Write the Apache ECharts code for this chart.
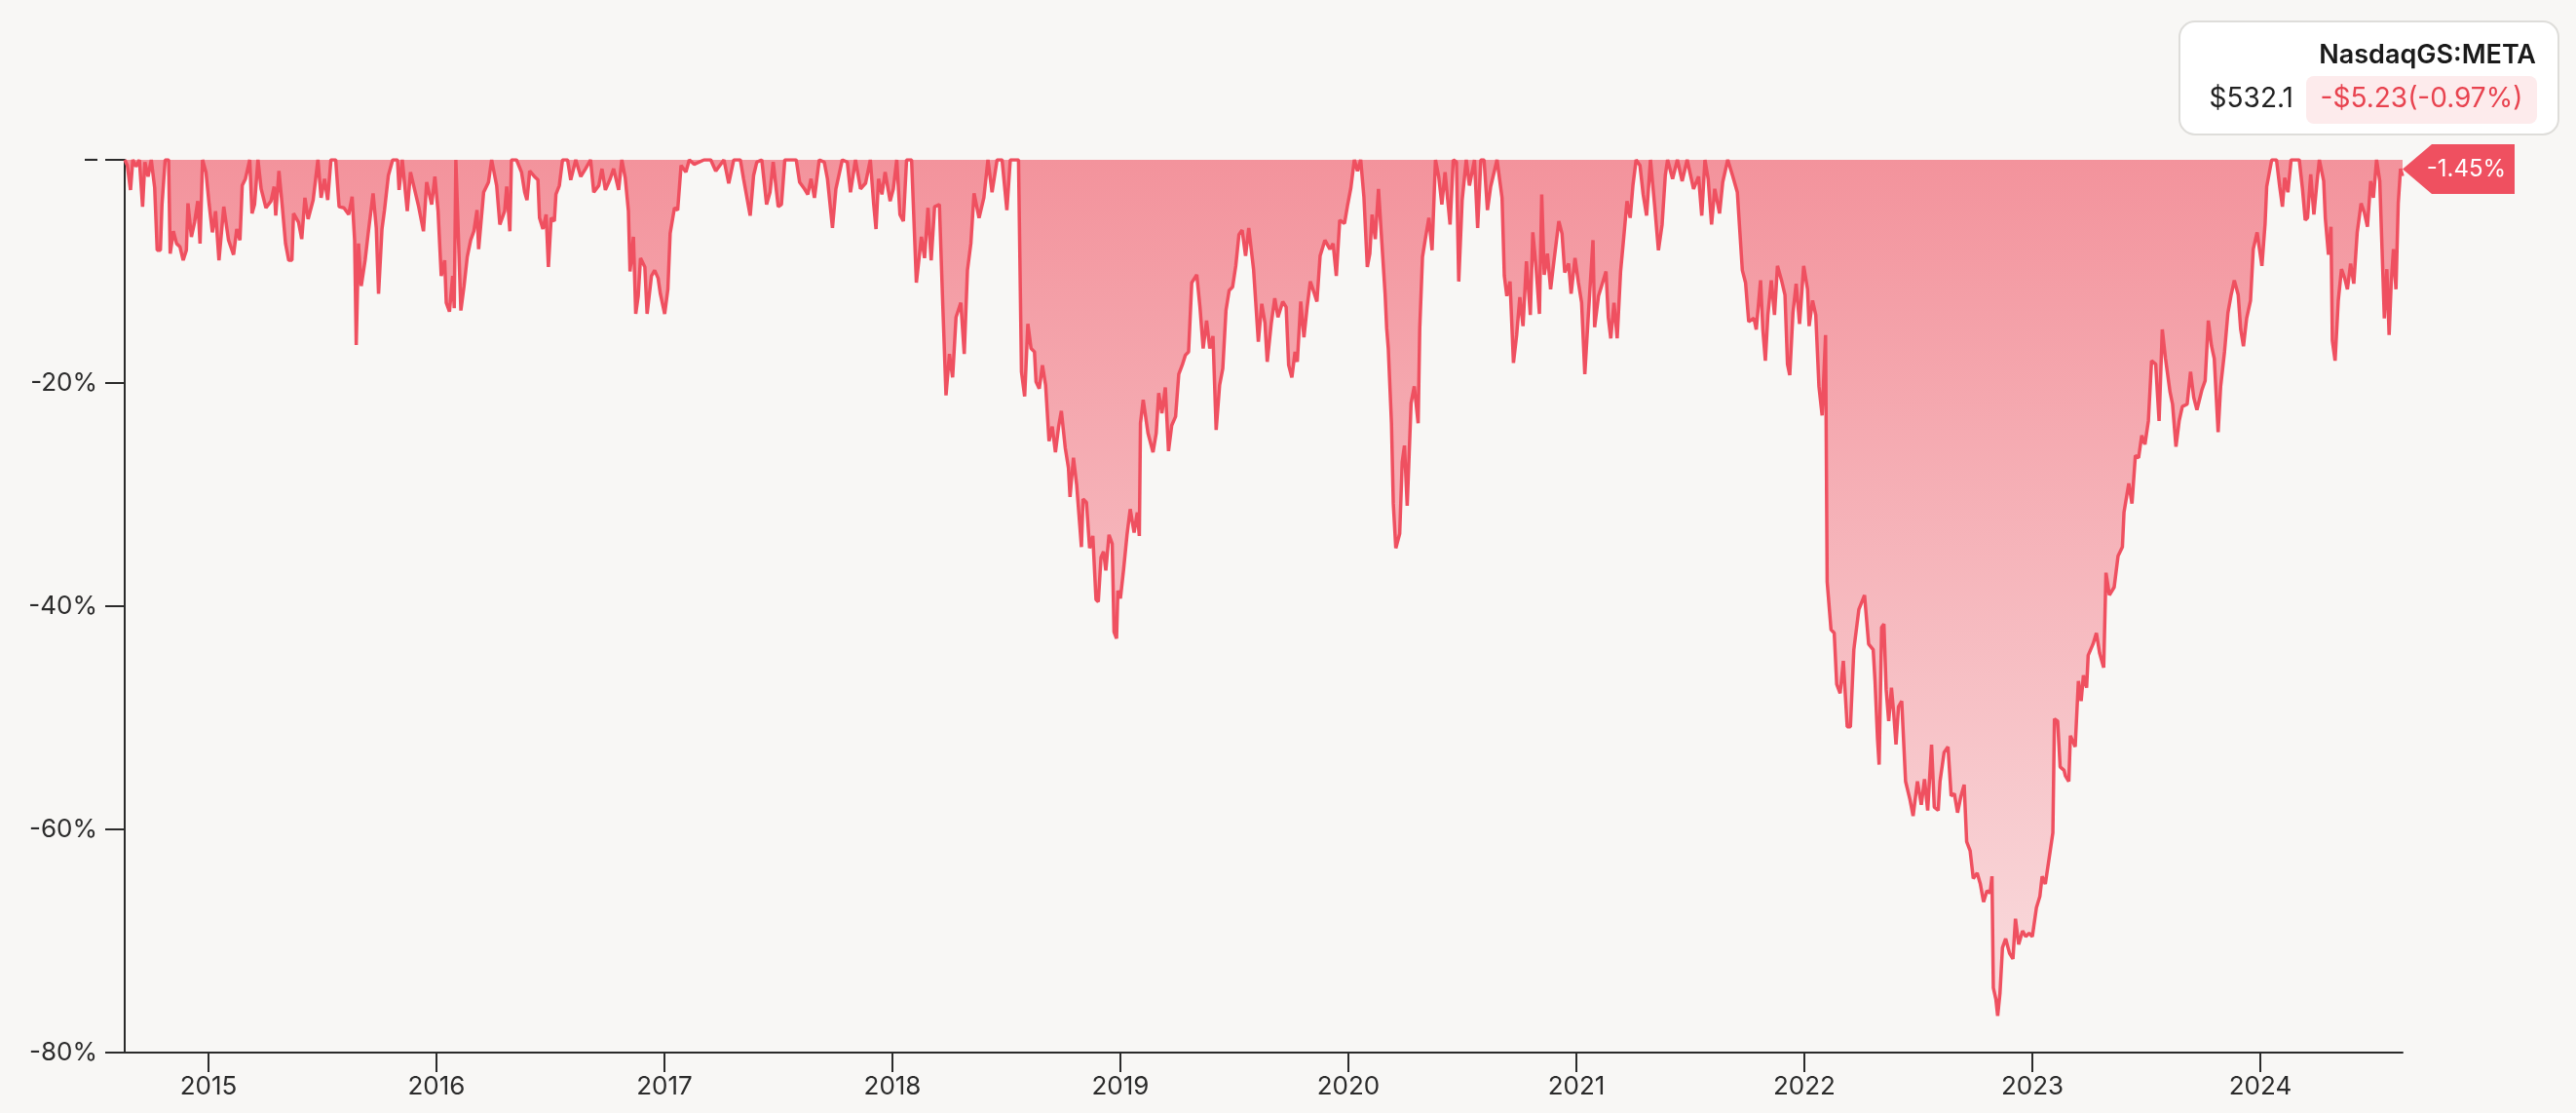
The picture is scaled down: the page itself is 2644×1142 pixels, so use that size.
<!DOCTYPE html>
<html>
<head>
<meta charset="utf-8">
<title>NasdaqGS:META drawdown</title>
<script src="https://cdn.jsdelivr.net/npm/echarts@6/dist/echarts.min.js"></script>
<style>
  html, body { margin: 0; padding: 0; background: #F8F7F5; }
  #chart { width: 2644px; height: 1142px; }
</style>
</head>
<body>
<div id="chart"></div>
<script>
// header box text
const ticker = 'NasdaqGS:META'
const lastPrice = '$532.1'
const dayChange = '-$5.23(-0.97%)'

// year ticks on the x axis
const yearTicks = [2015, 2016, 2017, 2018, 2019, 2020, 2021, 2022, 2023, 2024]

// drawdown from running high (date as decimal year, value in %)
const dates = [
  // 2014 - mid 2016
  2014.633, 2014.644, 2014.658, 2014.668, 2014.682, 2014.697, 2014.711, 2014.721, 2014.735, 2014.749,
  2014.764, 2014.775, 2014.789, 2014.796, 2014.81, 2014.825, 2014.832, 2014.846, 2014.86, 2014.875,
  2014.889, 2014.903, 2014.91, 2014.925, 2014.939, 2014.953, 2014.963, 2014.974, 2014.989, 2015.003,
  2015.017, 2015.031, 2015.046, 2015.067, 2015.088, 2015.11, 2015.124, 2015.138, 2015.148, 2015.162,
  2015.181, 2015.191, 2015.202, 2015.217, 2015.231, 2015.252, 2015.274, 2015.288, 2015.295, 2015.309,
  2015.323, 2015.338, 2015.352, 2015.366, 2015.373, 2015.395, 2015.409, 2015.423, 2015.437, 2015.459,
  2015.48, 2015.494, 2015.509, 2015.523, 2015.537, 2015.558, 2015.573, 2015.594, 2015.615, 2015.63,
  2015.641, 2015.648, 2015.658, 2015.67, 2015.687, 2015.701, 2015.722, 2015.736, 2015.746, 2015.761,
  2015.772, 2015.789, 2015.808, 2015.829, 2015.836, 2015.85, 2015.872, 2015.886, 2015.9, 2015.922,
  2015.943, 2015.957, 2015.979, 2015.993, 2016.007, 2016.021, 2016.036, 2016.043, 2016.057, 2016.071,
  2016.078, 2016.085, 2016.093, 2016.107, 2016.121, 2016.135, 2016.15, 2016.164, 2016.178, 2016.185,
  2016.207, 2016.228, 2016.242, 2016.264, 2016.278, 2016.299,
  // mid 2016 - mid 2018
  2016.308, 2016.322, 2016.329, 2016.351, 2016.373, 2016.387, 2016.397, 2016.409, 2016.43, 2016.445,
  2016.452, 2016.467, 2016.481, 2016.491, 2016.503, 2016.517, 2016.524, 2016.539, 2016.553, 2016.575,
  2016.589, 2016.611, 2016.633, 2016.654, 2016.676, 2016.69, 2016.712, 2016.726, 2016.741, 2016.762,
  2016.777, 2016.799, 2016.813, 2016.828, 2016.842, 2016.849, 2016.864, 2016.874, 2016.885, 2016.895,
  2016.914, 2016.924, 2016.943, 2016.957, 2016.972, 2016.982, 2017.001, 2017.015, 2017.025, 2017.044,
  2017.058, 2017.073, 2017.094, 2017.109, 2017.13, 2017.174, 2017.203, 2017.225, 2017.261, 2017.282,
  2017.304, 2017.333, 2017.347, 2017.376, 2017.391, 2017.405, 2017.427, 2017.448, 2017.463, 2017.477,
  2017.499, 2017.513, 2017.528, 2017.578, 2017.593, 2017.614, 2017.629, 2017.643, 2017.658, 2017.679,
  2017.701, 2017.715, 2017.737, 2017.752, 2017.78, 2017.802, 2017.816, 2017.838, 2017.86, 2017.882,
  2017.903, 2017.918, 2017.928, 2017.939, 2017.954, 2017.968, 2017.99, 2018.004, 2018.019, 2018.033,
  2018.048, 2018.062, 2018.084, 2018.105, 2018.127, 2018.141, 2018.156, 2018.17, 2018.185, 2018.206,
  2018.221, 2018.235, 2018.25, 2018.264, 2018.279, 2018.3, 2018.315, 2018.329, 2018.344, 2018.358,
  2018.38, 2018.401, 2018.419, 2018.437, 2018.459, 2018.481, 2018.502, 2018.517, 2018.553,
  // mid 2018 - 2019
  2018.558, 2018.566, 2018.58, 2018.594, 2018.608, 2018.623, 2018.63, 2018.644, 2018.658, 2018.672,
  2018.687, 2018.701, 2018.715, 2018.729, 2018.741, 2018.758, 2018.772, 2018.779, 2018.794, 2018.808,
  2018.822, 2018.829, 2018.836, 2018.851, 2018.865, 2018.879, 2018.893, 2018.903, 2018.915, 2018.926,
  2018.936, 2018.95, 2018.964, 2018.972, 2018.983, 2018.989, 2019.0, 2019.014, 2019.029, 2019.043,
  2019.06, 2019.074, 2019.083, 2019.088, 2019.1, 2019.121, 2019.143, 2019.157, 2019.168, 2019.182,
  2019.197, 2019.211, 2019.225, 2019.242, 2019.256, 2019.271, 2019.285, 2019.299, 2019.313, 2019.335,
  2019.349, 2019.363, 2019.378, 2019.392, 2019.406, 2019.42, 2019.435, 2019.449, 2019.463, 2019.477,
  2019.492, 2019.506, 2019.52, 2019.534, 2019.549, 2019.563, 2019.584, 2019.605, 2019.62, 2019.634,
  2019.644, 2019.662, 2019.677, 2019.691, 2019.712, 2019.727, 2019.738, 2019.752, 2019.766, 2019.776,
  2019.791, 2019.805, 2019.819, 2019.833, 2019.848, 2019.862, 2019.876, 2019.897, 2019.919, 2019.933,
  2019.947, 2019.962, 2019.983, 2019.997, 2020.011,
  // 2020 - late 2021
  2020.026, 2020.04, 2020.054, 2020.068, 2020.083, 2020.094, 2020.104, 2020.118, 2020.132, 2020.147,
  2020.161, 2020.168, 2020.175, 2020.189, 2020.197, 2020.208, 2020.225, 2020.236, 2020.246, 2020.258,
  2020.275, 2020.289, 2020.306, 2020.313, 2020.325, 2020.339, 2020.353, 2020.367, 2020.382, 2020.396,
  2020.41, 2020.424, 2020.446, 2020.46, 2020.474, 2020.484, 2020.499, 2020.517, 2020.531, 2020.553,
  2020.567, 2020.581, 2020.595, 2020.61, 2020.624, 2020.652, 2020.674, 2020.684, 2020.695, 2020.709,
  2020.724, 2020.738, 2020.752, 2020.766, 2020.781, 2020.798, 2020.809, 2020.823, 2020.838, 2020.848,
  2020.859, 2020.873, 2020.887, 2020.902, 2020.923, 2020.937, 2020.949, 2020.966, 2020.977, 2020.994,
  2021.009, 2021.023, 2021.037, 2021.051, 2021.073, 2021.08, 2021.097, 2021.115, 2021.13, 2021.14,
  2021.151, 2021.165, 2021.179, 2021.194, 2021.208, 2021.222, 2021.236, 2021.248, 2021.262, 2021.279,
  2021.293, 2021.308, 2021.325, 2021.343, 2021.36, 2021.376, 2021.39, 2021.4, 2021.422, 2021.443,
  2021.464, 2021.486, 2021.514, 2021.536, 2021.55, 2021.564, 2021.578, 2021.593, 2021.607, 2021.628,
  2021.642, 2021.664, 2021.685, 2021.706, 2021.728, 2021.742, 2021.756,
  // late 2021 - early 2023
  2021.779, 2021.789, 2021.808, 2021.818, 2021.829, 2021.84, 2021.855, 2021.869, 2021.882, 2021.9,
  2021.915, 2021.926, 2021.936, 2021.95, 2021.964, 2021.979, 2021.997, 2022.014, 2022.021, 2022.036,
  2022.05, 2022.064, 2022.078, 2022.093, 2022.1, 2022.117, 2022.131, 2022.142, 2022.157, 2022.171,
  2022.188, 2022.202, 2022.217, 2022.239, 2022.264, 2022.282, 2022.302, 2022.31, 2022.321, 2022.328,
  2022.339, 2022.349, 2022.359, 2022.37, 2022.382, 2022.392, 2022.402, 2022.413, 2022.427, 2022.444,
  2022.463, 2022.477, 2022.496, 2022.513, 2022.527, 2022.541, 2022.558, 2022.57, 2022.587, 2022.595,
  2022.613, 2022.63, 2022.644, 2022.658, 2022.672, 2022.687, 2022.701, 2022.712, 2022.727, 2022.741,
  2022.758, 2022.772, 2022.786, 2022.801, 2022.815, 2022.823, 2022.829, 2022.84, 2022.848, 2022.858,
  2022.869, 2022.883, 2022.9, 2022.915, 2022.926, 2022.94, 2022.957, 2022.971, 2022.986, 2023.0,
  2023.018, 2023.033, 2023.043, 2023.057, 2023.075, 2023.09, 2023.097, 2023.111, 2023.122, 2023.139,
  // 2023 - 2024
  2023.145, 2023.16, 2023.167, 2023.188, 2023.202, 2023.214, 2023.224, 2023.238, 2023.245, 2023.266,
  2023.281, 2023.295, 2023.313, 2023.323, 2023.338, 2023.359, 2023.376, 2023.395, 2023.402, 2023.423,
  2023.437, 2023.452, 2023.466, 2023.48, 2023.494, 2023.509, 2023.523, 2023.541, 2023.556, 2023.57,
  2023.584, 2023.604, 2023.615, 2023.63, 2023.644, 2023.658, 2023.679, 2023.694, 2023.708, 2023.722,
  2023.744, 2023.758, 2023.772, 2023.786, 2023.798, 2023.815, 2023.826, 2023.843, 2023.858, 2023.872,
  2023.886, 2023.903, 2023.914, 2023.926, 2023.94, 2023.957, 2023.969, 2023.986, 2024.007, 2024.021,
  2024.028, 2024.05, 2024.071, 2024.085, 2024.097, 2024.107, 2024.121, 2024.135, 2024.157, 2024.171,
  2024.185, 2024.197, 2024.207, 2024.221, 2024.235, 2024.249, 2024.259, 2024.278, 2024.285, 2024.299,
  2024.31, 2024.316, 2024.328, 2024.342, 2024.356, 2024.37, 2024.382, 2024.396, 2024.41, 2024.425,
  2024.442, 2024.456, 2024.47, 2024.484, 2024.496, 2024.51, 2024.524, 2024.534, 2024.544, 2024.555,
  2024.565, 2024.574, 2024.584, 2024.595, 2024.605, 2024.615, 2024.624
]

const drawdown = [
  // 2014 - mid 2016
  0, -0.5, -2.7, 0, -0.6, 0, -4.2, -0.2, -1.5, 0,
  -2.5, -8.1, -8.1, -4.0, 0, 0, -8.4, -6.4, -7.5, -7.8,
  -9.0, -8.1, -3.9, -6.9, -5.6, -3.7, -7.5, 0, -1.1, -4.0,
  -6.5, -4.6, -9.0, -4.2, -7.2, -8.5, -6.2, -7.2, -2.3, -1.7,
  0, -4.8, -4.0, 0, -2.6, -4.3, -3.7, -2.4, -5.0, -1.0,
  -4.0, -7.5, -9.0, -9.0, -4.8, -5.6, -7.1, -3.4, -5.3, -3.6,
  0, -3.4, -1.7, -3.6, 0, 0, -4.2, -4.3, -4.9, -3.3,
  -7.2, -16.6, -7.5, -11.3, -9.0, -6.5, -3.0, -6.1, -12.0, -6.2,
  -4.5, -1.4, 0, 0, -2.7, 0, -4.6, -1.1, -2.3, -4.2,
  -6.4, -2.0, -4.0, -1.5, -4.6, -10.4, -9.0, -12.8, -13.6, -10.4,
  -13.3, 0, 0, -13.5, -11.3, -8.7, -7.2, -6.4, -4.5, -8.0,
  -2.9, -2.0, 0, -2.3, -5.8, -4.6,
  // mid 2016 - mid 2018
  -2.4, -6.4, 0, 0, -1.1, -2.9, -3.6, -1.0, -1.5, -1.8,
  -5.2, -6.2, -4.9, -9.6, -5.2, -5.5, -3.1, -2.3, 0, 0,
  -1.8, 0, -1.5, -0.8, 0, -2.9, -2.3, -0.8, -2.7, -1.7,
  -0.8, -2.7, 0, -1.6, -4.6, -10.0, -6.9, -13.8, -12.2, -8.8,
  -9.6, -13.8, -10.4, -9.9, -10.6, -12.0, -13.8, -11.6, -6.6, -4.3,
  -4.5, -0.5, -1.1, 0, -0.4, 0, 0, -1.0, 0, -2.1,
  0, 0, -1.7, -5.0, -1.4, -0.2, 0, -4.0, -2.9, -0.2,
  -4.2, -4.0, 0, 0, -2.0, -2.6, -3.1, -1.7, -3.4, 0,
  -0.2, -1.7, -6.1, -2.6, 0, -0.2, -2.9, 0, -2.6, -2.1,
  0, -4.0, -6.2, -1.7, -3.1, -1.1, -3.7, -2.6, 0, -4.9,
  -5.5, 0, 0, -11.0, -6.9, -8.8, -4.3, -9.0, -4.2, -4.0,
  -13.1, -21.1, -17.4, -19.5, -14.1, -12.8, -17.4, -9.9, -7.5, -3.0,
  -5.2, -3.4, 0, -2.9, 0, 0, -4.5, 0, 0,
  // mid 2018 - 2019
  0, -19.0, -21.2, -14.7, -16.9, -17.2, -19.9, -20.5, -18.4, -20.2,
  -25.2, -23.9, -26.2, -23.9, -22.5, -25.8, -27.6, -30.2, -26.7, -29.1,
  -32.8, -34.7, -30.4, -30.7, -34.8, -33.7, -39.4, -39.6, -35.6, -35.1,
  -36.8, -33.6, -34.4, -42.3, -42.9, -38.6, -39.3, -36.7, -33.6, -31.3,
  -33.4, -31.6, -33.7, -23.6, -21.5, -24.5, -26.2, -24.5, -20.9, -22.7,
  -20.4, -26.1, -23.8, -23.0, -19.2, -18.4, -17.5, -17.2, -11.0, -10.3,
  -13.2, -16.9, -14.4, -16.9, -15.8, -24.2, -20.2, -18.7, -13.5, -11.7,
  -11.4, -9.5, -6.7, -6.3, -8.6, -6.1, -9.8, -16.3, -12.9, -14.6,
  -18.1, -14.6, -12.4, -14.1, -12.7, -13.2, -18.4, -19.5, -17.2, -18.1,
  -12.7, -15.9, -13.2, -10.9, -11.8, -12.7, -8.6, -7.2, -8.0, -7.5,
  -10.4, -5.4, -5.7, -4.0, -2.5,
  // 2020 - late 2021
  0, -1.0, 0, -3.3, -9.6, -8.4, -4.9, -7.1, -2.6, -7.5,
  -12.0, -15.1, -16.9, -23.6, -30.8, -34.8, -33.5, -27.1, -25.6, -31.0,
  -21.8, -20.3, -23.6, -15.1, -8.7, -6.9, -5.2, -8.1, 0, -1.5,
  -4.0, -1.1, -5.8, 0, -0.2, -10.9, -3.6, 0, -2.3, 0,
  -6.1, 0, 0, -4.5, -2.4, 0, -3.4, -10.4, -12.2, -10.9,
  -18.2, -15.7, -12.3, -14.9, -9.1, -13.9, -6.5, -9.6, -13.8, -3.1,
  -10.3, -8.4, -11.6, -9.0, -5.5, -6.6, -10.1, -9.3, -12.0, -8.8,
  -11.0, -12.8, -19.2, -14.4, -7.2, -15.0, -12.2, -11.0, -10.0, -14.1,
  -16.0, -12.8, -16.0, -10.0, -6.9, -3.7, -5.2, -2.3, 0, -0.5,
  -3.1, -5.0, 0, -4.0, -8.1, -5.8, -1.4, 0, -1.7, 0,
  -1.9, 0, -2.6, -1.5, -5.0, 0, -1.7, -5.8, -2.6, -4.8,
  -2.0, 0, -1.4, -2.9, -9.9, -11.0, -14.5,
  // late 2021 - early 2023
  -14.2, -15.2, -10.8, -15.2, -18.0, -13.9, -10.8, -13.9, -9.5, -10.8,
  -12.1, -18.3, -19.3, -13.7, -11.1, -14.7, -9.5, -11.6, -14.9, -12.6,
  -13.9, -20.3, -22.9, -15.7, -37.8, -42.1, -42.4, -47.0, -47.8, -44.9,
  -50.8, -50.8, -43.9, -40.3, -39.0, -43.4, -43.9, -46.7, -51.9, -54.2,
  -41.9, -41.6, -47.5, -50.3, -47.3, -49.6, -52.4, -49.0, -48.5, -55.7,
  -57.3, -58.8, -55.7, -57.8, -55.5, -58.3, -52.4, -58.0, -58.3, -55.7,
  -53.1, -52.6, -57.0, -56.8, -58.5, -57.0, -56.0, -61.1, -61.9, -64.4,
  -63.9, -64.9, -66.5, -65.5, -65.7, -64.2, -74.2, -75.2, -76.7, -74.7,
  -70.6, -69.8, -71.1, -71.6, -68.0, -70.3, -69.1, -69.6, -69.3, -69.6,
  -67.0, -66.0, -64.2, -64.9, -62.4, -60.3, -50.1, -50.3, -54.4, -54.7,
  // 2023 - 2024
  -55.2, -55.7, -51.6, -52.6, -46.7, -48.5, -46.2, -47.3, -44.4, -43.4,
  -42.4, -44.2, -45.5, -37.0, -39.0, -38.3, -35.5, -34.7, -31.6, -29.0,
  -30.8, -26.5, -26.7, -24.7, -25.5, -23.4, -18.0, -18.3, -23.4, -15.2,
  -17.8, -20.8, -21.9, -25.7, -23.4, -22.1, -21.9, -19.0, -21.3, -22.4,
  -20.6, -19.8, -14.4, -16.7, -17.8, -24.4, -20.3, -17.2, -13.7, -12.1,
  -10.8, -12.1, -15.2, -16.7, -14.2, -12.6, -8.0, -6.5, -9.5, -5.7,
  -2.4, 0, 0, -2.4, -4.2, -1.6, -2.9, 0, 0, 0,
  -2.6, -5.4, -5.2, -1.3, -4.9, -1.9, 0, -1.9, -5.2, -8.5,
  -6.0, -16.2, -18.0, -12.6, -9.8, -10.6, -11.6, -9.3, -11.1, -6.5,
  -3.9, -4.7, -6.0, -1.9, -3.4, 0, -1.9, -8.0, -14.2, -9.8,
  -15.7, -11.1, -8.0, -11.6, -3.9, -0.8, -1.45
]

const RED = '#EF5060'
const AXIS = '#2B2B2B'
const FONT = 'Inter, "Noto Sans", sans-serif'

const chart = echarts.init(document.getElementById('chart'))
const last = dates.length - 1

const option = {
  animation: false,
  backgroundColor: '#F8F7F5',
  textStyle: { fontFamily: FONT },
  grid: { left: 128, right: 178, top: 164, bottom: 62, containLabel: false },
  xAxis: {
    type: 'value',
    min: 2014.6325,
    max: 2024.624,
    axisLine: { onZero: false, lineStyle: { color: AXIS, width: 2 } },
    axisTick: { show: true, length: 20, lineStyle: { color: AXIS, width: 2 }, customValues: yearTicks },
    axisLabel: {
      color: AXIS, fontSize: 26, margin: 22, fontFamily: FONT,
      customValues: yearTicks,
      formatter: v => String(v)
    },
    splitLine: { show: false }
  },
  yAxis: {
    type: 'value',
    min: -80,
    max: 0,
    interval: 20,
    axisLine: { show: true, onZero: false, lineStyle: { color: AXIS, width: 2 } },
    axisTick: { show: true, length: 20, lineStyle: { color: AXIS, width: 2 } },
    axisLabel: {
      color: AXIS, fontSize: 26, margin: 28, fontFamily: FONT,
      formatter: v => (v === 0 ? '–' : v + '%')
    },
    splitLine: { show: false }
  },
  series: [{
    type: 'line',
    data: dates.map((d, i) => [d, drawdown[i]]),
    showSymbol: false,
    symbol: 'none',
    lineStyle: { color: RED, width: 3.5 },
    areaStyle: {
      origin: 'end',
      opacity: 1,
      color: new echarts.graphic.LinearGradient(0, 0, 0, 1, [
        { offset: 0, color: '#F3939C' },
        { offset: 1, color: '#F9DCDE' }
      ])
    },
    markPoint: {
      symbol: 'path://M0,25.5L30,0L115,0L115,51L30,51Z',
      symbolSize: [115, 51],
      symbolOffset: [57.5, -7],
      itemStyle: { color: RED },
      label: {
        show: true,
        color: '#fff',
        fontSize: 24,
        fontFamily: FONT,
        offset: [8, 0],
        formatter: p => p.value.toFixed(2) + '%'
      },
      data: [{ coord: [dates[last], drawdown[last]], value: drawdown[last] }]
    }
  }],
  graphic: [{
    type: 'group',
    right: 17,
    top: 21,
    children: [
      {
        type: 'rect',
        shape: { x: 0, y: 0, width: 389, height: 116, r: 16 },
        style: { fill: '#FFFFFF', stroke: '#DEDDDA', lineWidth: 2 }
      },
      {
        type: 'text',
        style: {
          text: ticker, x: 366, y: 35, align: 'right', verticalAlign: 'middle',
          font: '600 27px ' + FONT, fill: '#1A1A1A'
        }
      },
      {
        type: 'text',
        style: {
          text: lastPrice, x: 117, y: 80, align: 'right', verticalAlign: 'middle',
          font: '400 28px ' + FONT, fill: '#222222'
        }
      },
      {
        type: 'rect',
        shape: { x: 130, y: 56, width: 237, height: 49, r: 8 },
        style: { fill: '#FDEBEC' }
      },
      {
        type: 'text',
        style: {
          text: dayChange, x: 248.5, y: 80, align: 'center', verticalAlign: 'middle',
          font: '400 28px ' + FONT, fill: '#E8434F'
        }
      }
    ]
  }]
}

chart.setOption(option)
</script>
</body>
</html>
